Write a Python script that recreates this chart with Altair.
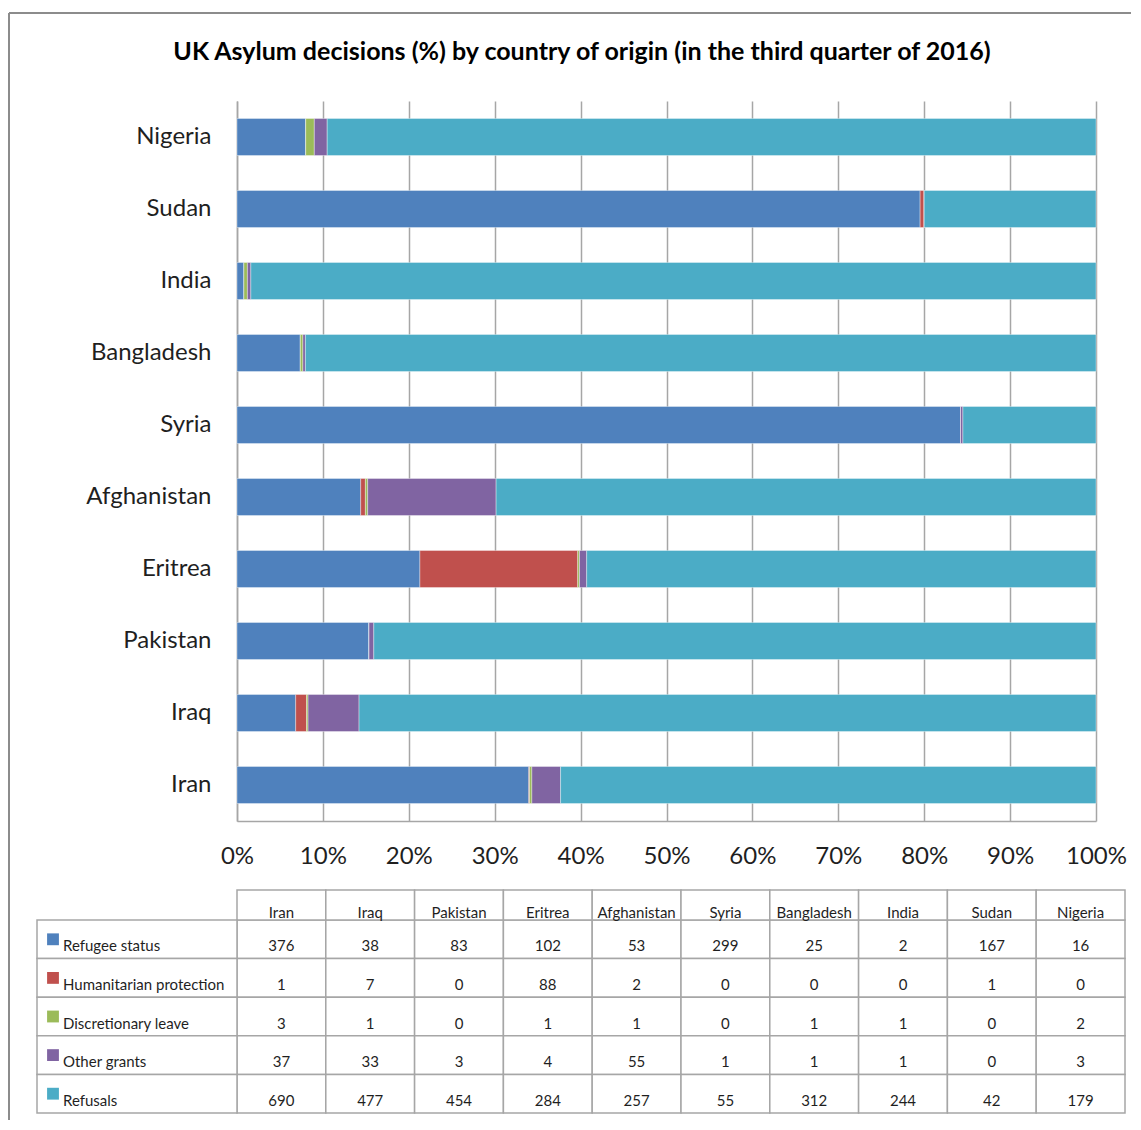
import altair as alt
import pandas as pd

# ---- data ----
countries = ["Iran", "Iraq", "Pakistan", "Eritrea", "Afghanistan",
             "Syria", "Bangladesh", "India", "Sudan", "Nigeria"]
series = ["Refugee status", "Humanitarian protection", "Discretionary leave",
          "Other grants", "Refusals"]
refugee_status = [376, 38, 83, 102, 53, 299, 25, 2, 167, 16]
humanitarian = [1, 7, 0, 88, 2, 0, 0, 0, 1, 0]
discretionary = [3, 1, 0, 1, 1, 0, 1, 1, 0, 2]
other_grants = [37, 33, 3, 4, 55, 1, 1, 1, 0, 3]
refusals = [690, 477, 454, 284, 257, 55, 312, 244, 42, 179]
colors = ["#4F81BD", "#C0504D", "#9BBB59", "#8064A2", "#4BACC6"]
title_text = "UK Asylum decisions (%) by country of origin (in the third quarter of 2016)"
pct_ticks = [0, 0.1, 0.2, 0.3, 0.4, 0.5, 0.6, 0.7, 0.8, 0.9, 1.0]

values = [refugee_status, humanitarian, discretionary, other_grants, refusals]
rows = []
for si, (s, vals) in enumerate(zip(series, values)):
    for c, v in zip(countries, vals):
        rows.append({"country": c, "series": s, "count": v, "idx": si})
df = pd.DataFrame(rows)

FONT = "Lato"
GRID = "#A6A6A6"
TEXT = "#1F1F1F"
W, H = 859, 720
TABLE_W = 888
HEADER_TOP, ROWS_TOP, ROWS_BOTTOM = 789, 819, 1012

y_order = list(reversed(countries))

bars = alt.Chart(df).mark_bar(stroke="white", strokeWidth=0.6, strokeOpacity=0.6).encode(
    x=alt.X("count:Q", stack="normalize",
            scale=alt.Scale(domain=[0, 1], nice=False),
            axis=alt.Axis(format="%", values=pct_ticks, title=None,
                          labelFlush=False, labelFontSize=24, labelFont=FONT,
                          labelColor=TEXT, labelBaseline="middle",
                          labelPadding=35, ticks=False, tickSize=0,
                          grid=True, gridColor=GRID, gridWidth=1.5,
                          domainColor=GRID, domainWidth=1.5)),
    y=alt.Y("country:N", sort=y_order,
            scale=alt.Scale(paddingInner=0.486, paddingOuter=0.243),
            axis=alt.Axis(title=None, labelFontSize=24, labelFont=FONT,
                          labelColor=TEXT, labelPadding=26, ticks=False,
                          tickSize=0, domainColor=GRID, domainWidth=1.5,
                          grid=False)),
    color=alt.Color("series:N", scale=alt.Scale(domain=series, range=colors),
                    legend=None),
    order=alt.Order("idx:Q"),
)

one = alt.Data(values=[{"t": title_text}])

title = alt.Chart(one).mark_text(
    fontSize=25, fontWeight="bold", font=FONT, color="black",
    align="center", baseline="middle"
).encode(text="t:N", x=alt.value(345), y=alt.value(-49))

frame_left = alt.Chart(one).mark_rule(color="#8C8C8C", strokeWidth=2).encode(
    x=alt.value(-228), y=alt.value(-88), y2=alt.value(1019))
frame_top = alt.Chart(one).mark_rule(color="#8C8C8C", strokeWidth=2).encode(
    x=alt.value(-228), x2=alt.value(894), y=alt.value(-88))

tx = alt.X("country:N", sort=countries,
           scale=alt.Scale(domain=countries, range=[0, TABLE_W],
                           paddingInner=0, paddingOuter=0), axis=None)
ty = alt.Y("series:N", sort=series,
           scale=alt.Scale(domain=series, range=[ROWS_TOP, ROWS_BOTTOM],
                           paddingInner=0, paddingOuter=0), axis=None)

hdr = pd.DataFrame({"country": countries})
ser = pd.DataFrame({"series": series})

cells = alt.Chart(df).mark_rect(fill="white", stroke=GRID, strokeWidth=1.5).encode(
    x=tx, y=ty)
header_cells = alt.Chart(hdr).mark_rect(fill="white", stroke=GRID, strokeWidth=1.5).encode(
    x=tx, y=alt.value(HEADER_TOP), y2=alt.value(ROWS_TOP))
header_text = alt.Chart(hdr).mark_text(
    fontSize=15, font=FONT, color=TEXT, baseline="alphabetic", align="center"
).encode(x=tx, y=alt.value(817), text="country:N")
cell_text = alt.Chart(df).mark_text(
    fontSize=15, font=FONT, color=TEXT, baseline="middle", align="center", dy=7
).encode(x=tx, y=ty, text="count:Q")
label_cells = alt.Chart(ser).mark_rect(fill="white", stroke=GRID, strokeWidth=1.5).encode(
    x=alt.value(-200), x2=alt.value(0), y=ty)
label_squares = alt.Chart(ser).mark_square(size=140, opacity=1, filled=True).encode(
    x=alt.value(-184), y=ty,
    color=alt.Color("series:N", scale=alt.Scale(domain=series, range=colors),
                    legend=None))
label_text = alt.Chart(ser).mark_text(
    fontSize=15, font=FONT, color=TEXT, baseline="middle", align="left", dy=7
).encode(x=alt.value(-174), y=ty, text="series:N")

chart = alt.layer(
    bars, title, frame_left, frame_top,
    cells, header_cells, header_text, cell_text,
    label_cells, label_squares, label_text
).resolve_scale(x="independent", y="independent", color="shared").properties(
    width=W, height=H, padding={"left": 0, "top": 4, "right": 0, "bottom": 0},
    background="white"
).configure_view(stroke=None)

chart.save("out.html", embed_options={"renderer": "svg", "actions": False})
